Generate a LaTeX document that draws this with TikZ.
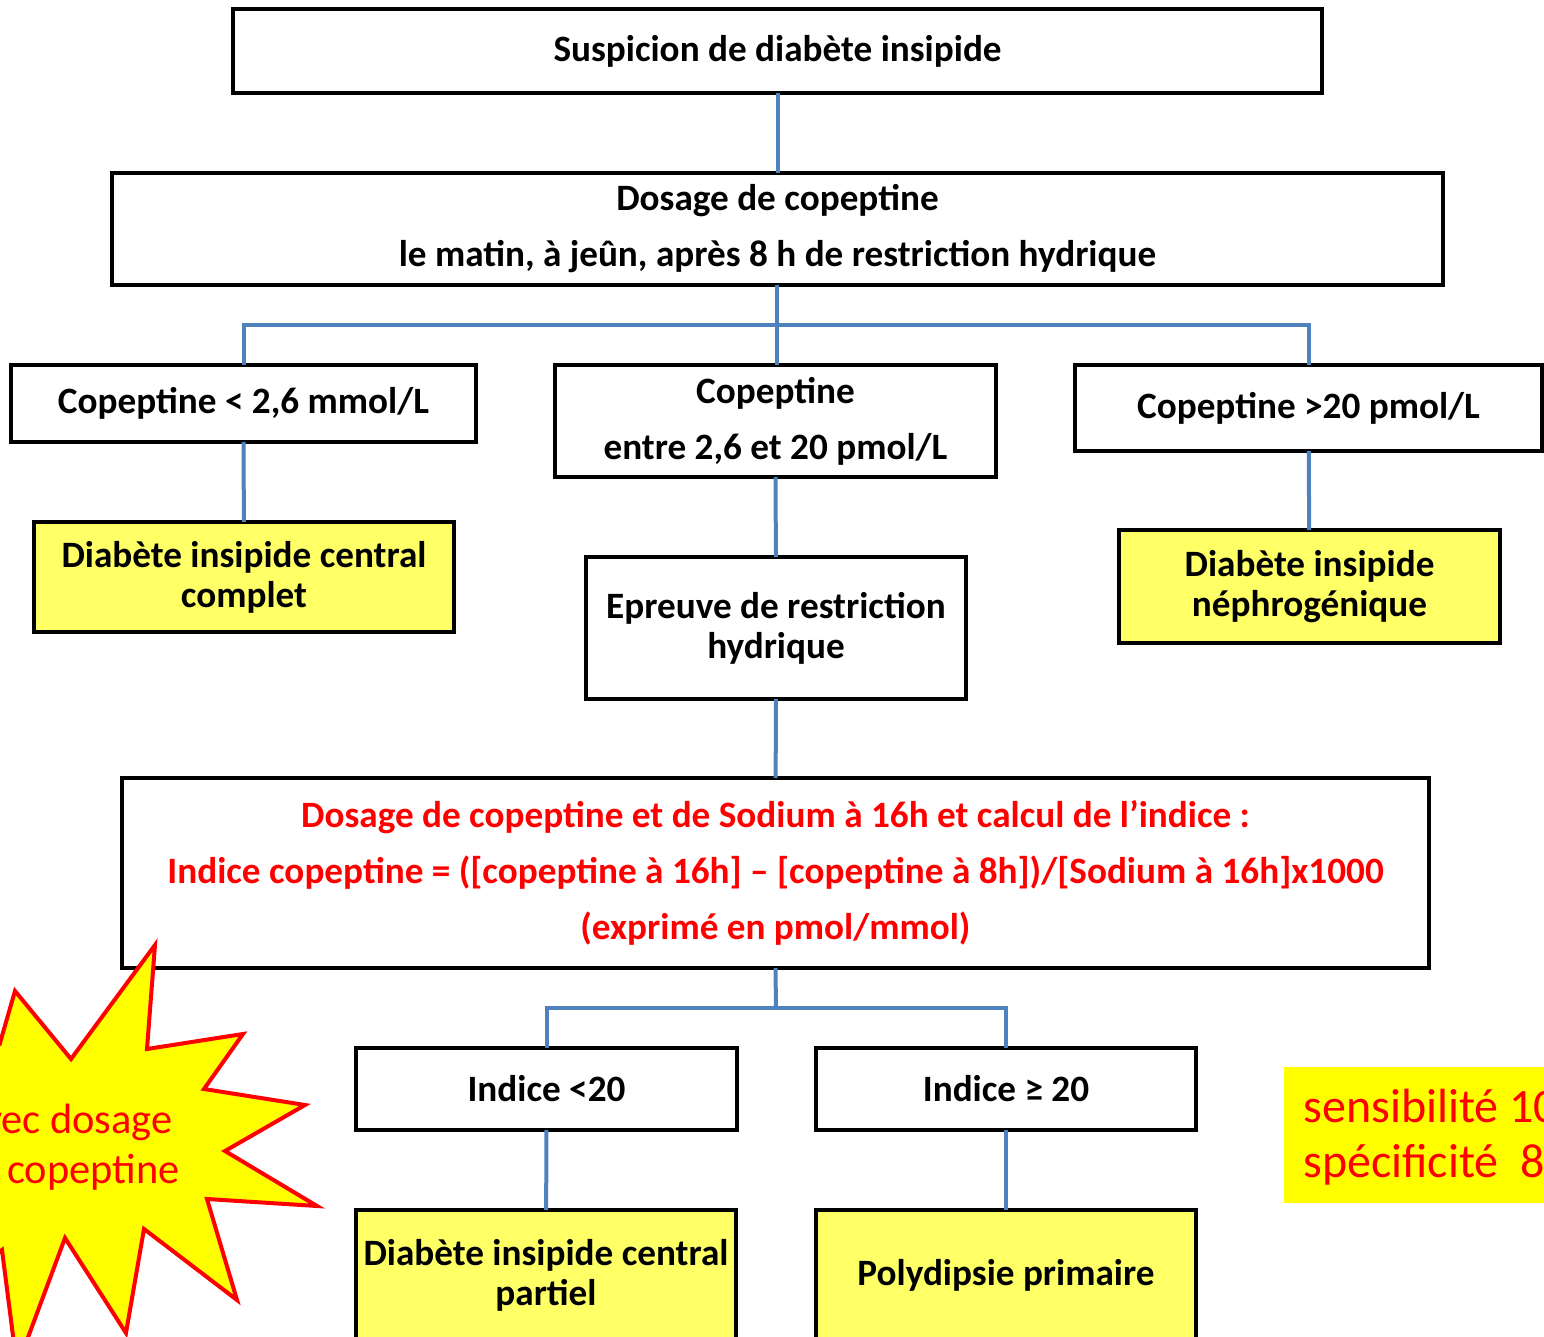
\documentclass[tikz,border=0pt]{standalone}
\usepackage{fontspec}
\setmainfont{Carlito}
\definecolor{lienbleu}{HTML}{4F81BD}
\definecolor{jaunepale}{HTML}{FFFF66}
\definecolor{jaunevif}{HTML}{FFFF00}
\definecolor{rouge}{HTML}{FF0000}
\tikzset{
	boite/.style={draw, line width=2pt, align=center, inner sep=0pt, outer sep=0pt,
		font=\fontsize{18.6}{20}\selectfont\bfseries},
	boitelarge/.style={boite, font=\fontsize{18.6}{28}\selectfont\bfseries},
	jaune/.style={boite, fill=jaunepale},
	lien/.style={draw=lienbleu, line width=2pt},
	etoiletexte/.style={text=rouge, inner sep=0pt, font=\fontsize{21.2}{21.2}\selectfont},
	perftexte/.style={text=rouge, inner sep=0pt, font=\fontsize{24}{24}\selectfont}
}
\begin{document}
\begin{tikzpicture}[x=0.5pt,y=-0.5pt]
	\useasboundingbox (0,0) rectangle (1544,1337);
	\clip (0,0) rectangle (1544,1337);
	% Premier niveau
	\node[boite, minimum width=1089*0.5pt, minimum height=84*0.5pt] (haut) at (777.5,51) {Suspicion de diabète insipide};
	\node[boitelarge, minimum width=1331*0.5pt, minimum height=112*0.5pt] (dosage) at (777.5,229) {Dosage de copeptine\\le matin, à jeûn, après 8 h de restriction hydrique};
	
	% Trois resultats
	\node[boite, minimum width=465*0.5pt, minimum height=77*0.5pt] (gauche) at (243.5,403.5) {Copeptine < 2,6 mmol/L};
	\node[boitelarge, minimum width=441*0.5pt, minimum height=112*0.5pt] (milieu) at (775.5,421) {Copeptine\\entre 2,6 et 20 pmol/L};
	\node[boite, minimum width=467*0.5pt, minimum height=86*0.5pt] (droite) at (1308.5,408) {Copeptine >20 pmol/L};
	\node[jaune, minimum width=420*0.5pt, minimum height=110*0.5pt] (central) at (244,577) {Diabète insipide central\\complet};
	\node[boite, minimum width=380*0.5pt, minimum height=142*0.5pt] (epreuve) at (776,628) {Epreuve de restriction\\hydrique};
	\node[jaune, minimum width=381*0.5pt, minimum height=113*0.5pt] (nephro) at (1309.5,586.5) {Diabète insipide\\néphrogénique};
	
	% Calcul de l'indice
	\node[boitelarge, text=rouge, minimum width=1307*0.5pt, minimum height=190*0.5pt] (calcul) at (775.5,873) {Dosage de copeptine et de Sodium à 16h et calcul de l’indice :\\Indice copeptine = ([copeptine à 16h] – [copeptine à 8h])/[Sodium à 16h]x1000\\(exprimé en pmol/mmol)};
	\node[boite, minimum width=381*0.5pt, minimum height=82*0.5pt] (inf) at (546.5,1089) {Indice <20};
	\node[boite, minimum width=380*0.5pt, minimum height=82*0.5pt] (sup) at (1006,1089) {Indice ≥ 20};
	\node[jaune, minimum width=380*0.5pt, minimum height=130*0.5pt] (partiel) at (546,1275) {Diabète insipide central\\partiel};
	\node[jaune, minimum width=380*0.5pt, minimum height=130*0.5pt] (poly) at (1006,1275) {Polydipsie primaire};
	
	% Liens
	\coordinate (nd1) at (777,325);
	\coordinate (nd2) at (776,1008);
	\draw[lien] (haut) -- (dosage);
	\draw[lien] (dosage.south -| nd1) -- (milieu.north -| nd1);
	\draw[lien] (gauche.north) |- (nd1) -| (droite.north);
	\draw[lien] (gauche) -- (central);
	\draw[lien] (milieu) -- (epreuve);
	\draw[lien] (droite) -- (nephro);
	\draw[lien] (epreuve) -- (calcul);
	\draw[lien] (calcul.south) -- (nd2);
	\draw[lien] (inf.north) |- (nd2) -| (sup.north);
	\draw[lien] (inf) -- (partiel);
	\draw[lien] (sup) -- (poly);
	
	% Etoile
	\filldraw[draw=rouge, fill=jaunevif, line width=2pt, line join=miter]
		(155,945) -- (147,1049) -- (243,1034) -- (204,1089) -- (305,1105) -- (225,1151)
		-- (317,1206) -- (207,1199) -- (237,1300) -- (144,1229) -- (126,1333) -- (65,1238)
		-- (17,1367) -- (2,1250) -- (-60,1300) -- (-60,1000) -- (0,1043) -- (15,991)
		-- (71,1059) -- cycle;
	\node[etoiletexte, anchor=base east] (etoile1) at (173,1133) {vec dosage};
	\node[etoiletexte, anchor=base east] (etoile2) at (180,1183) {copeptine};
	
	% Sensibilite
	\node[fill=jaunevif, inner sep=0pt, anchor=north west, minimum width=300*0.5pt, minimum height=136*0.5pt] (perf) at (1284,1067) {};
	\node[perftexte, anchor=base west] (perf1) at (1303,1122) {sensibilité 10};
	\node[perftexte, anchor=base west] (perf2) at (1303,1177) {spécificité\ \ 8};
\end{tikzpicture}
\end{document}
